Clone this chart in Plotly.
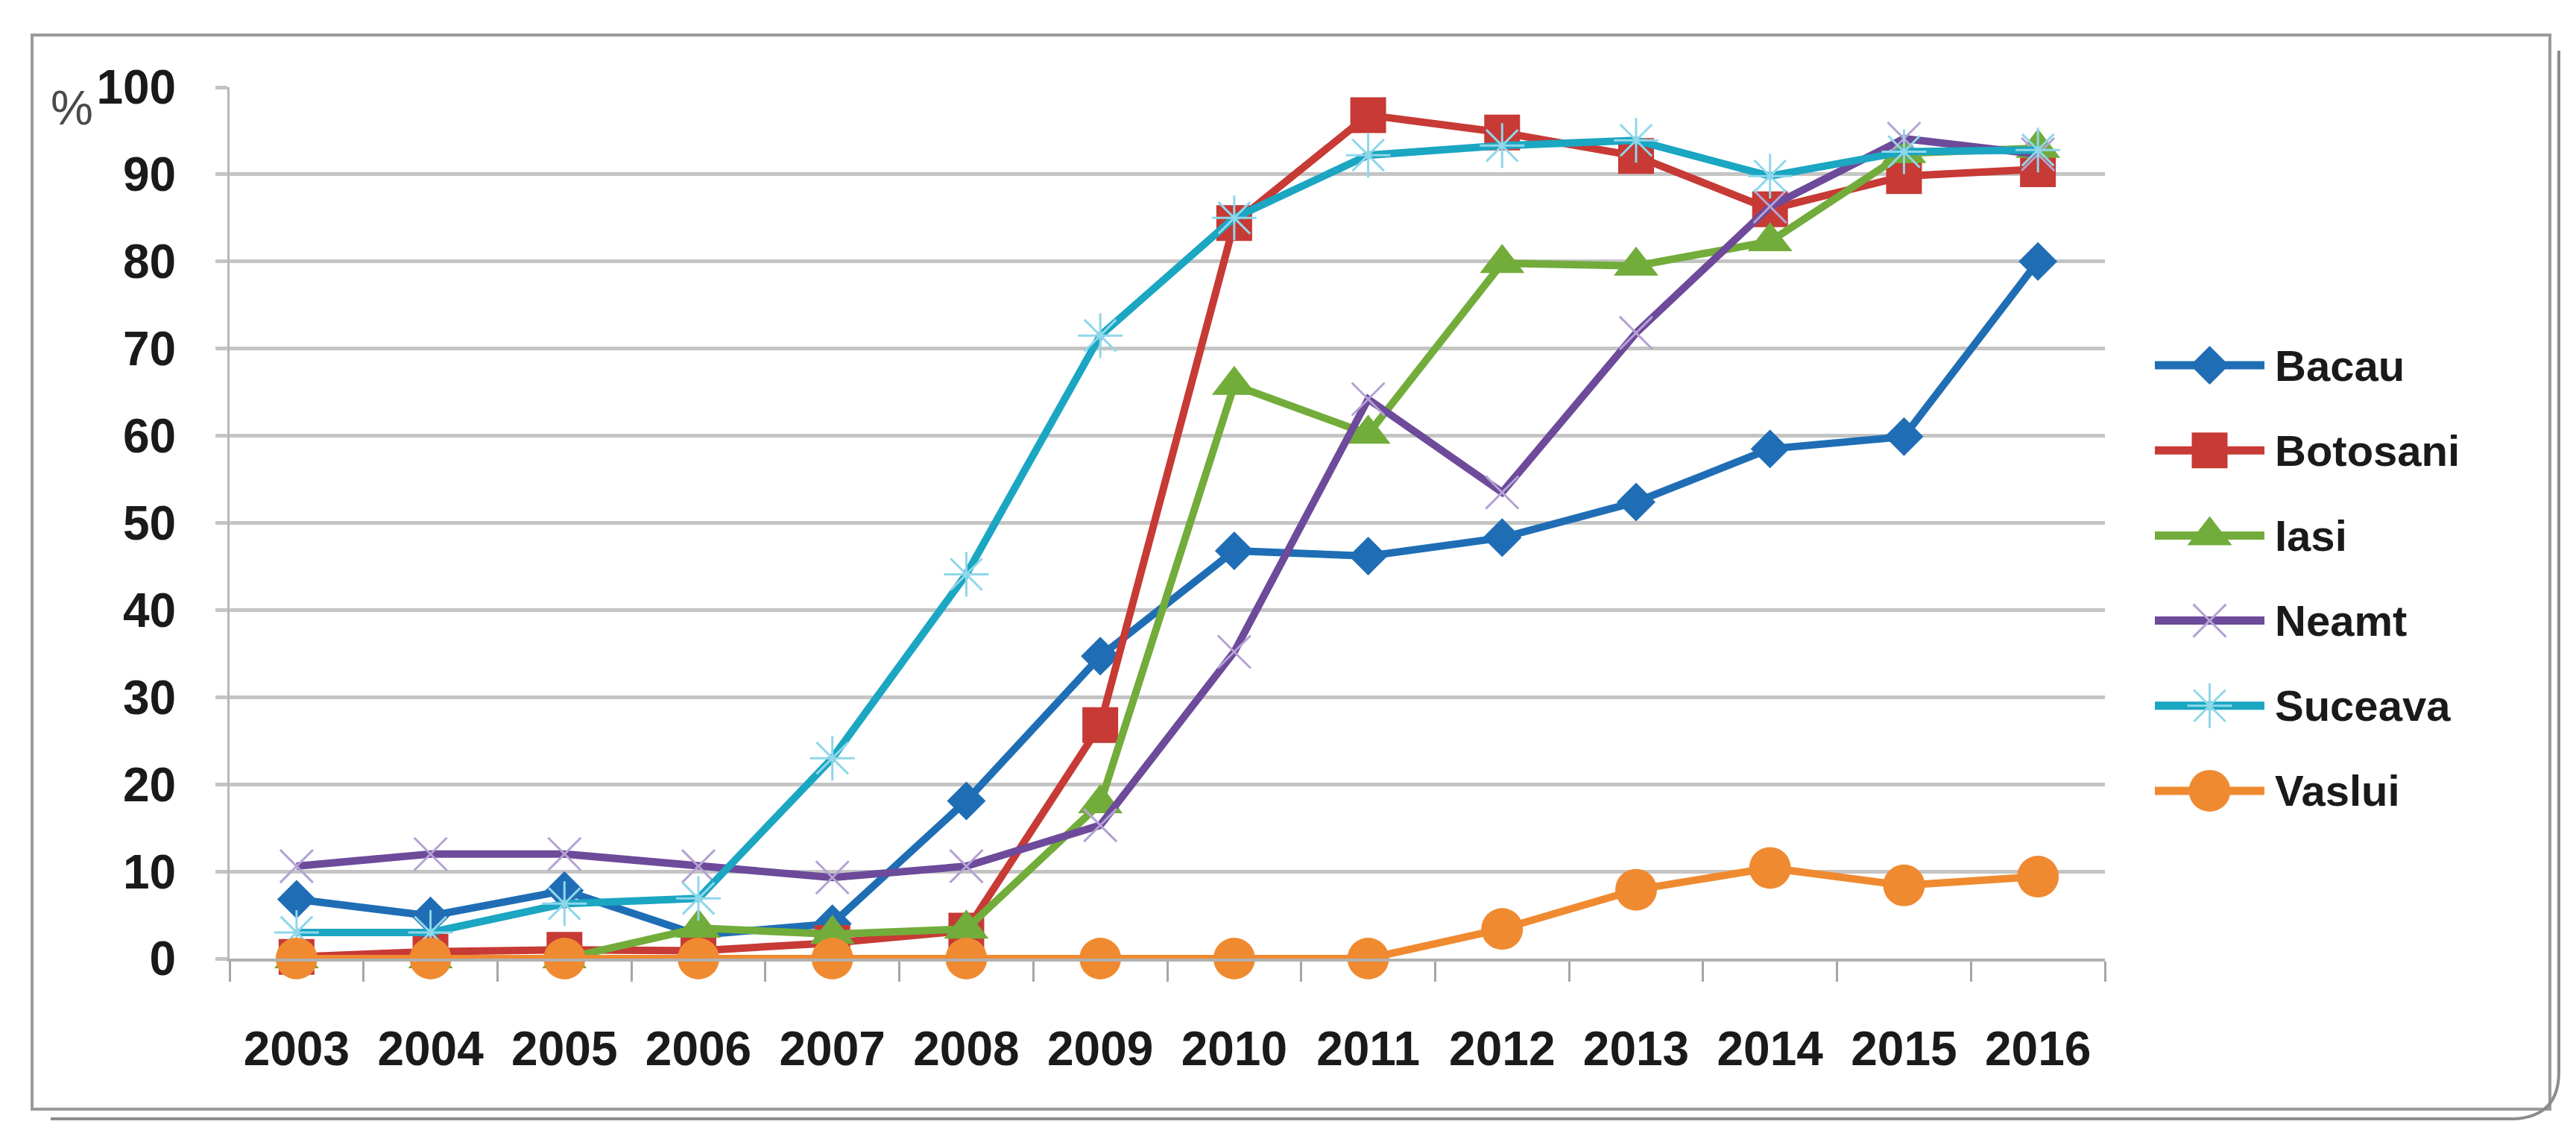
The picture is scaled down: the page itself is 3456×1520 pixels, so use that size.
import plotly.graph_objects as go

# ---------------- data ----------------
years = ["2003", "2004", "2005", "2006", "2007", "2008", "2009",
         "2010", "2011", "2012", "2013", "2014", "2015", "2016"]

bacau = [6.8, 4.9, 7.8, 2.7, 4.0, 18.1, 34.7, 46.8, 46.2, 48.3, 52.4, 58.5, 59.9, 80.0]
botosani = [0.2, 0.8, 1.0, 0.9, 1.8, 3.2, 26.8, 84.4, 96.8, 94.8, 92.1, 86.0, 89.8, 90.6]
iasi = [0.0, 0.0, 0.0, 3.5, 2.8, 3.4, 17.8, 65.8, 60.2, 79.8, 79.5, 82.3, 92.4, 93.0]
neamt = [10.6, 12.0, 12.0, 10.6, 9.3, 10.6, 15.3, 35.2, 64.2, 53.5, 71.8, 86.3, 94.1, 92.3]
suceava = [3.0, 3.0, 6.3, 6.9, 23.0, 44.1, 71.5, 85.0, 92.2, 93.3, 93.9, 89.8, 92.6, 92.8]
vaslui = [0.0, 0.0, 0.0, 0.0, 0.0, 0.0, 0.0, 0.0, 0.0, 3.4, 7.9, 10.4, 8.4, 9.4]

series_names = ["Bacau", "Botosani", "Iasi", "Neamt", "Suceava", "Vaslui"]
series_values = [bacau, botosani, iasi, neamt, suceava, vaslui]
y_ticks = [0, 10, 20, 30, 40, 50, 60, 70, 80, 90, 100]

# ---------------- styles ----------------
line_colors = ["#1F6EB5", "#C73A35", "#72AC3A", "#6D4A9A", "#1BA6C2", "#F08A30"]
marker_styles = [
    dict(symbol="diamond", size=40, color="#1F6EB5"),
    dict(symbol="square", size=48, color="#C73A35"),
    dict(symbol="triangle-up", size=52, color="#72AC3A"),
    dict(symbol="x-thin-open", size=44, color="#B5A2D4", line=dict(width=3, color="#B5A2D4")),
    dict(symbol="asterisk-open", size=50, color="#8FD7EA", line=dict(width=3, color="#8FD7EA")),
    dict(symbol="circle", size=56, color="#F08A30"),
]

W, H = 3456, 1520
PL, PR, PT, PB = 300, 3413, 109, 1278  # plot area pixel box
PW, PH = PR - PL, PB - PT


def px_x(x):
    return (x - PL) / PW


def px_y(y):
    return (PB - y) / PH


FONT = "Liberation Sans, Arial, sans-serif"
TEXT_COLOR = "#1A1A1A"
GRID = "#C4C4C4"

fig = go.Figure()

for name, vals, lc, ms in zip(series_names, series_values, line_colors, marker_styles):
    fig.add_trace(go.Scatter(
        x=years, y=vals, name=name, mode="lines+markers",
        line=dict(color=lc, width=10),
        marker=ms, cliponaxis=False, showlegend=False,
        xaxis="x", yaxis="y",
    ))

# custom legend drawn on a secondary axis pair
for i, (name, lc, ms) in enumerate(zip(series_names, line_colors, marker_styles)):
    fig.add_trace(go.Scatter(
        x=[0, 1], y=[i, i], mode="lines", line=dict(color=lc, width=11),
        xaxis="x2", yaxis="y2", showlegend=False, hoverinfo="skip", cliponaxis=False,
    ))
    fig.add_trace(go.Scatter(
        x=[0.5], y=[i], mode="markers", marker=ms,
        xaxis="x2", yaxis="y2", showlegend=False, hoverinfo="skip", cliponaxis=False,
    ))
    fig.add_annotation(
        x=1, y=i, xref="x2", yref="y2", text=name, showarrow=False,
        xanchor="left", yanchor="middle", xshift=12,
        font=dict(family=FONT, size=58, color=TEXT_COLOR, weight="bold"),
    )

fig.update_layout(
    width=W, height=H,
    margin=dict(l=PL, r=W - PR, t=PT, b=H - PB, pad=0),
    paper_bgcolor="white", plot_bgcolor="white",
    showlegend=False,
    xaxis=dict(
        domain=[0, px_x(2816)], type="category", range=[-0.5, len(years) - 0.5],
        tickson="boundaries", ticks="outside", ticklen=27, tickwidth=3, tickcolor="#A6A6A6",
        showline=True, linecolor="#B0B0B0", linewidth=4, showgrid=False, zeroline=False,
        tickfont=dict(family=FONT, size=64, color=TEXT_COLOR, weight="bold"),
        ticklabelstandoff=62, anchor="y",
    ),
    yaxis=dict(
        range=[0, 100], tickvals=y_ticks, ticks="outside", ticklen=16, tickwidth=5,
        tickcolor=GRID, showline=True, linecolor="#B8B8B8", linewidth=3,
        showgrid=True, gridcolor=GRID, gridwidth=5, zeroline=False,
        tickfont=dict(family=FONT, size=64, color=TEXT_COLOR, weight="bold"),
        ticklabelstandoff=40, anchor="x",
    ),
    xaxis2=dict(domain=[px_x(2883), px_x(3030)], range=[0, 1], visible=False, anchor="y2"),
    yaxis2=dict(domain=[px_y(1110), px_y(425)], range=[len(series_names) - 0.5, -0.5],
                visible=False, anchor="x2"),
)

# "%" unit label
fig.add_annotation(
    x=px_x(88), y=px_y(137), xref="paper", yref="paper", text="%", showarrow=False,
    xanchor="center", yanchor="middle",
    font=dict(family=FONT, size=64, color="#4A4A4A"),
)

# outer frame with shadow
fig.add_shape(type="rect", xref="paper", yref="paper",
              x0=px_x(35), x1=px_x(3413), y0=px_y(1480), y1=px_y(39),
              line=dict(color="#9A9A9A", width=4), layer="below")
shadow = "M {a},{b} L {c},{d} Q {e},{f} {g},{h} L {i},{j}".format(
    a=px_x(3425), b=px_y(60), c=px_x(3425), d=px_y(1430),
    e=px_x(3425), f=px_y(1490), g=px_x(3365), h=px_y(1493),
    i=px_x(60), j=px_y(1493))
fig.add_shape(type="path", xref="paper", yref="paper", path=shadow,
              line=dict(color="#8C8C8C", width=4), layer="below")

fig.write_html("out.html")
